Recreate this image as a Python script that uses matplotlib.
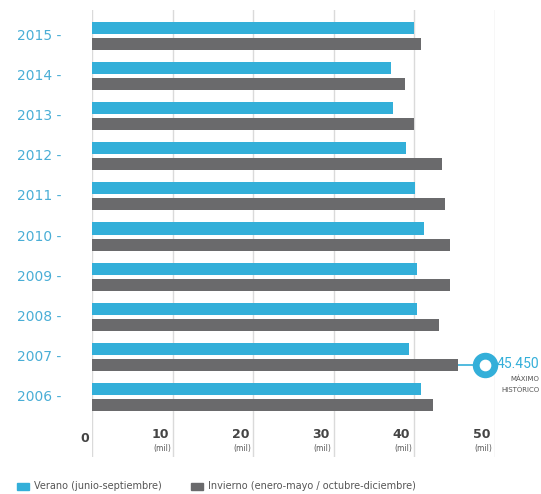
import matplotlib
matplotlib.use("Agg")
from matplotlib import pyplot as plt
from matplotlib.patches import Rectangle
import numpy as np

# data (thousands of visitors)
years = [2006, 2007, 2008, 2009, 2010, 2011, 2012, 2013, 2014, 2015]
verano = [40.8, 39.3, 40.4, 40.4, 41.2, 40.1, 39.0, 37.4, 37.1, 40.0]
invierno = [42.3, 45.45, 43.1, 44.5, 44.5, 43.8, 43.4, 40.0, 38.9, 40.8]
x_ticks = [10, 20, 30, 40, 50]
peak_label = "45.450"
peak_sub = ["MÁXIMO", "HISTÓRICO"]
legend_labels = ["Verano (junio-septiembre)", "Invierno (enero-mayo / octubre-diciembre)"]

blue = "#33afd9"
gray = "#6a6a6c"
grid = "#dadada"
label_blue = "#4aaed6"
text_gray = "#555555"

W, H = 541, 494
fig = plt.figure(figsize=(W / 100, H / 100), dpi=100)
ax = fig.add_axes([92.3 / W, 1 - 457 / H, 402.4 / W, 447 / H])
ax.set_xlim(0, 50)
ax.set_ylim(2004.5, 2015.65)
ax.axis("off")

for g in [0] + x_ticks:
    ax.axvline(g, color=grid, linewidth=1, zorder=0)

y = np.array(years, dtype=float)
ax.barh(y + 0.2, verano, height=0.3, color=blue, zorder=2)
ax.barh(y - 0.2, invierno, height=0.3, color=gray, zorder=2)

# year labels
for yr in years:
    ax.text(-3.8, yr, f"{yr} -", ha="right", va="center", fontsize=10,
            color=label_blue, fontweight="medium", clip_on=False)

# x tick labels
ax.text(-1.0, 2004.97, "0", ha="center", va="center", fontsize=9,
        fontweight="bold", color="#444444")
for t in x_ticks:
    ax.text(t - 0.5, 2005.07, str(t), ha="right", va="center", fontsize=9,
            fontweight="bold", color="#444444")
    ax.text(t - 0.25, 2004.72, "(mil)", ha="right", va="center", fontsize=5.5,
            color=text_gray)

# peak annotation
i = years.index(2007)
py = years[i] - 0.2
ax.plot([invierno[i], 48.8], [py, py], color=blue, linewidth=1.2, zorder=1)
ax.scatter([48.8], [py], s=300, color=blue, zorder=3, clip_on=False)
ax.scatter([48.8], [py], s=55, color="white", zorder=4, clip_on=False)
fig.text(539 / W, 1 - 364 / H, peak_label, ha="right", va="center", fontsize=10,
         color=blue, family=["Roboto", "DejaVu Sans"])
fig.text(539 / W, 1 - 379 / H, peak_sub[0], ha="right", va="center", fontsize=5,
         color=text_gray)
fig.text(539 / W, 1 - 390 / H, peak_sub[1], ha="right", va="center", fontsize=5,
         color=text_gray)

# legend
fig.patches.append(Rectangle((17 / W, 1 - 490 / H), 12 / W, 7 / H,
                             color=blue, transform=fig.transFigure))
fig.text(34 / W, 1 - 486 / H, legend_labels[0], ha="left", va="center",
         fontsize=7, color=text_gray)
fig.patches.append(Rectangle((191 / W, 1 - 490 / H), 12 / W, 7 / H,
                             color=gray, transform=fig.transFigure))
fig.text(208 / W, 1 - 486 / H, legend_labels[1], ha="left", va="center",
         fontsize=7, color=text_gray)

fig.savefig("out.png", dpi=100)
